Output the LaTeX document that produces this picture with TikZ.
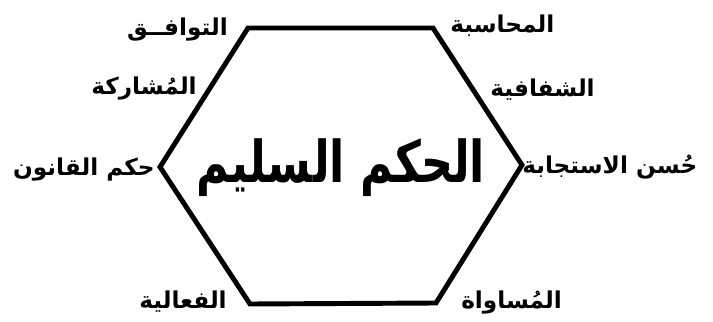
\documentclass[tikz,border=0pt]{standalone}
\usepackage{fontspec}
\usepackage{xcolor}
\newfontfamily\arabicfont[Script=Arabic]{DejaVu Sans}
\TeXXeTstate=1
\tikzset{
  lbl/.style={font=\arabicfont\bfseries\fontsize{16.5}{18}\selectfont, inner sep=0pt},
  title/.style={font=\arabicfont\bfseries\fontsize{41}{44}\selectfont, inner sep=0pt},
}

\begin{document}
\begin{tikzpicture}[x=0.025cm,y=-0.025cm]
  \useasboundingbox (0,0) rectangle (713,322);
  % corners of the hexagon
  \coordinate (tl) at (248,28);
  \coordinate (tr) at (433,28);
  \coordinate (r)  at (522,165);
  \coordinate (br) at (436,303);
  \coordinate (bl) at (250,304);
  \coordinate (l)  at (160,167);
  \draw[line width=3.5pt, line join=miter] (tl) -- (tr) -- (r) -- (br) -- (bl) -- (l) -- cycle;
  \node[title] (main) at (341,168) {\scalebox{0.77}[1]{\beginR الحكم السليم\endR}};
  % left side
  \node[lbl, anchor=base east] (tawafuq) at (228,35) {\beginR التوافــق\endR};
  \node[lbl, anchor=base east] (musharaka) at (197,95) {\beginR المُشاركة\endR};
  \node[lbl, anchor=base east] (qanun) at (155,175) {\beginR حكم القانون\endR};
  \node[lbl, anchor=base east] (faaliya) at (227,308) {\beginR الفعالية\endR};
  % right side
  \node[lbl, anchor=base west] (muhasaba) at (450,33) {\beginR المحاسبة\endR};
  \node[lbl, anchor=base west] (shafafiya) at (490,97) {\beginR الشفافية\endR};
  \node[lbl, anchor=base west] (istijaba) at (522,173) {\beginR حُسن الاستجابة\endR};
  \node[lbl, anchor=base west] (musawat) at (461,308) {\beginR المُساواة\endR};
\end{tikzpicture}
\end{document}
